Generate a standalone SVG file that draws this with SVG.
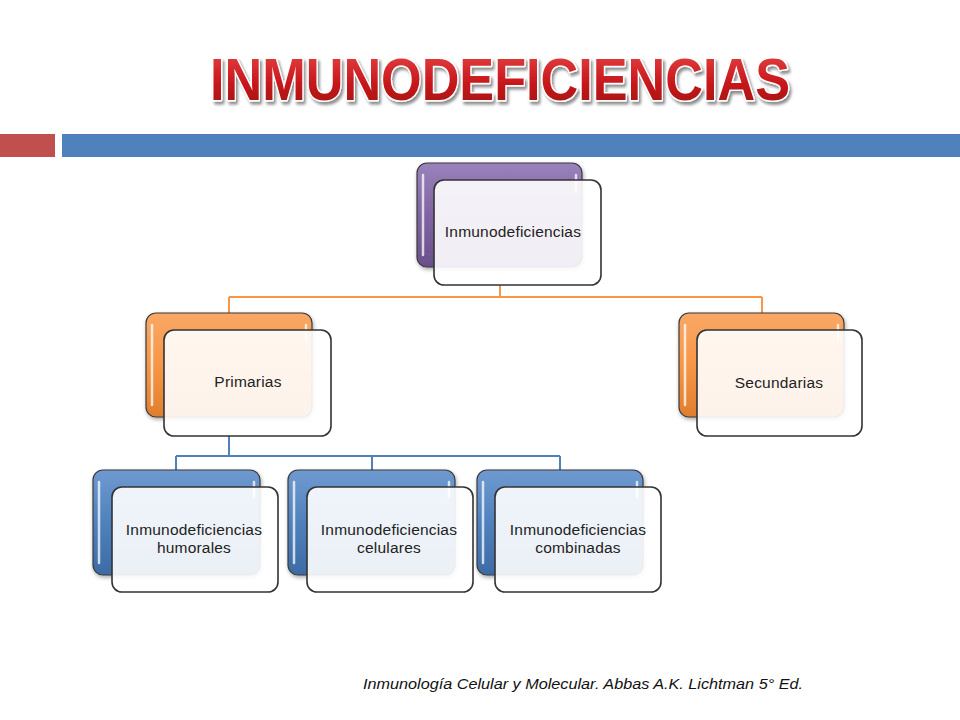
<svg xmlns="http://www.w3.org/2000/svg" width="960" height="720" viewBox="0 0 960 720">
<defs>
<linearGradient id="gPurple" x1="0" y1="0" x2="0" y2="1">
<stop offset="0" stop-color="#9A82BC"/><stop offset="0.5" stop-color="#8064A2"/><stop offset="1" stop-color="#6A4F8C"/>
</linearGradient>
<linearGradient id="gOrange" x1="0" y1="0" x2="0" y2="1">
<stop offset="0" stop-color="#F9A866"/><stop offset="0.5" stop-color="#F79646"/><stop offset="1" stop-color="#E07E2E"/>
</linearGradient>
<linearGradient id="gBlue" x1="0" y1="0" x2="0" y2="1">
<stop offset="0" stop-color="#6F9AD0"/><stop offset="0.5" stop-color="#4F81BD"/><stop offset="1" stop-color="#3C6BA4"/>
</linearGradient>
<linearGradient id="gTitle" x1="0" y1="0" x2="0" y2="1">
<stop offset="0" stop-color="#E8484A"/><stop offset="0.55" stop-color="#C8181C"/><stop offset="1" stop-color="#9A0E10"/>
</linearGradient>
<filter id="sh" x="-10%" y="-10%" width="130%" height="130%">
<feGaussianBlur in="SourceAlpha" stdDeviation="2"/><feOffset dx="1" dy="2"/>
<feComponentTransfer><feFuncA type="linear" slope="0.35"/></feComponentTransfer>
<feMerge><feMergeNode/><feMergeNode in="SourceGraphic"/></feMerge>
</filter>
<filter id="tsh" x="-5%" y="-20%" width="110%" height="150%">
<feGaussianBlur in="SourceAlpha" stdDeviation="1.5"/><feOffset dx="2" dy="3"/>
<feComponentTransfer><feFuncA type="linear" slope="0.45"/></feComponentTransfer>
<feMerge><feMergeNode/><feMergeNode in="SourceGraphic"/></feMerge>
</filter>
</defs>
<style>
.back{stroke:#3a3a3a;stroke-width:1.2}
.front{fill:#ffffff;fill-opacity:0.9;stroke:#333333;stroke-width:1.6}
.hl{stroke:#ffffff;stroke-opacity:0.75;stroke-width:2.5;stroke-linecap:round;fill:none}
.lbl{font-family:"Liberation Sans",Arial,sans-serif;font-size:15.5px;letter-spacing:0.2px;fill:#222222;text-anchor:middle}
.co{fill:none;stroke:#F79646;stroke-width:2}
.cb{fill:none;stroke:#4F81BD;stroke-width:2}
</style>
<rect width="960" height="720" fill="#ffffff"/>
<g id="header">
<rect x="0" y="134" width="55" height="23" fill="#C0504D"/>
<rect x="62" y="134" width="898" height="23" fill="#4F81BD"/>
</g>
<g id="title">
<text x="500" y="100" font-family="'Liberation Sans',Arial,sans-serif" font-weight="bold" font-size="60" textLength="580" lengthAdjust="spacingAndGlyphs" text-anchor="middle" fill="url(#gTitle)" stroke="#ffffff" stroke-width="3" paint-order="stroke" stroke-linejoin="round" filter="url(#tsh)">INMUNODEFICIENCIAS</text>
</g>
<g id="connectors">
<path class="co" d="M500 285 V297 M229 297 H762 M229 297 V314 M762 297 V314"/>
<path class="cb" d="M229 436 V456 M176 456 H560 M176 456 V471 M372 456 V471 M560 456 V471"/>
</g>
<g id="n-inmuno">
<rect class="back" x="417" y="163" width="165" height="104" rx="10" fill="url(#gPurple)" filter="url(#sh)"/>
<path class="hl" d="M423 175 V255 M576 175 V190"/>
<rect class="front" x="434" y="180" width="167" height="105" rx="10"/>
<text class="lbl" x="513" y="237">Inmunodeficiencias</text>
</g>
<g id="n-primarias">
<rect class="back" x="146" y="313" width="166" height="104" rx="10" fill="url(#gOrange)" filter="url(#sh)"/>
<path class="hl" d="M152 325 V405 M306 325 V340"/>
<rect class="front" x="164" y="330" width="167" height="106" rx="10"/>
<text class="lbl" x="248" y="387">Primarias</text>
</g>
<g id="n-secundarias">
<rect class="back" x="679" y="313" width="165" height="104" rx="10" fill="url(#gOrange)" filter="url(#sh)"/>
<path class="hl" d="M685 325 V405 M838 325 V340"/>
<rect class="front" x="697" y="330" width="165" height="106" rx="10"/>
<text class="lbl" x="779" y="388">Secundarias</text>
</g>
<g id="n-humorales">
<rect class="back" x="93" y="470" width="167" height="105" rx="10" fill="url(#gBlue)" filter="url(#sh)"/>
<path class="hl" d="M99 482 V563 M254 482 V497"/>
<rect class="front" x="112" y="487" width="166" height="105" rx="10"/>
<text class="lbl" x="194" y="535">Inmunodeficiencias</text>
<text class="lbl" x="194" y="553">humorales</text>
</g>
<g id="n-celulares">
<rect class="back" x="288" y="470" width="167" height="105" rx="10" fill="url(#gBlue)" filter="url(#sh)"/>
<path class="hl" d="M294 482 V563 M449 482 V497"/>
<rect class="front" x="307" y="487" width="166" height="105" rx="10"/>
<text class="lbl" x="389" y="535">Inmunodeficiencias</text>
<text class="lbl" x="389" y="553">celulares</text>
</g>
<g id="n-combinadas">
<rect class="back" x="477" y="470" width="166" height="105" rx="10" fill="url(#gBlue)" filter="url(#sh)"/>
<path class="hl" d="M483 482 V563 M637 482 V497"/>
<rect class="front" x="495" y="487" width="166" height="105" rx="10"/>
<text class="lbl" x="578" y="535">Inmunodeficiencias</text>
<text class="lbl" x="578" y="553">combinadas</text>
</g>
<g id="citation">
<text x="363" y="689" font-family="'Liberation Sans',Arial,sans-serif" font-style="italic" font-size="15" textLength="440" lengthAdjust="spacingAndGlyphs" fill="#111111">Inmunología Celular y Molecular. Abbas A.K. Lichtman 5° Ed.</text>
</g>
</svg>
